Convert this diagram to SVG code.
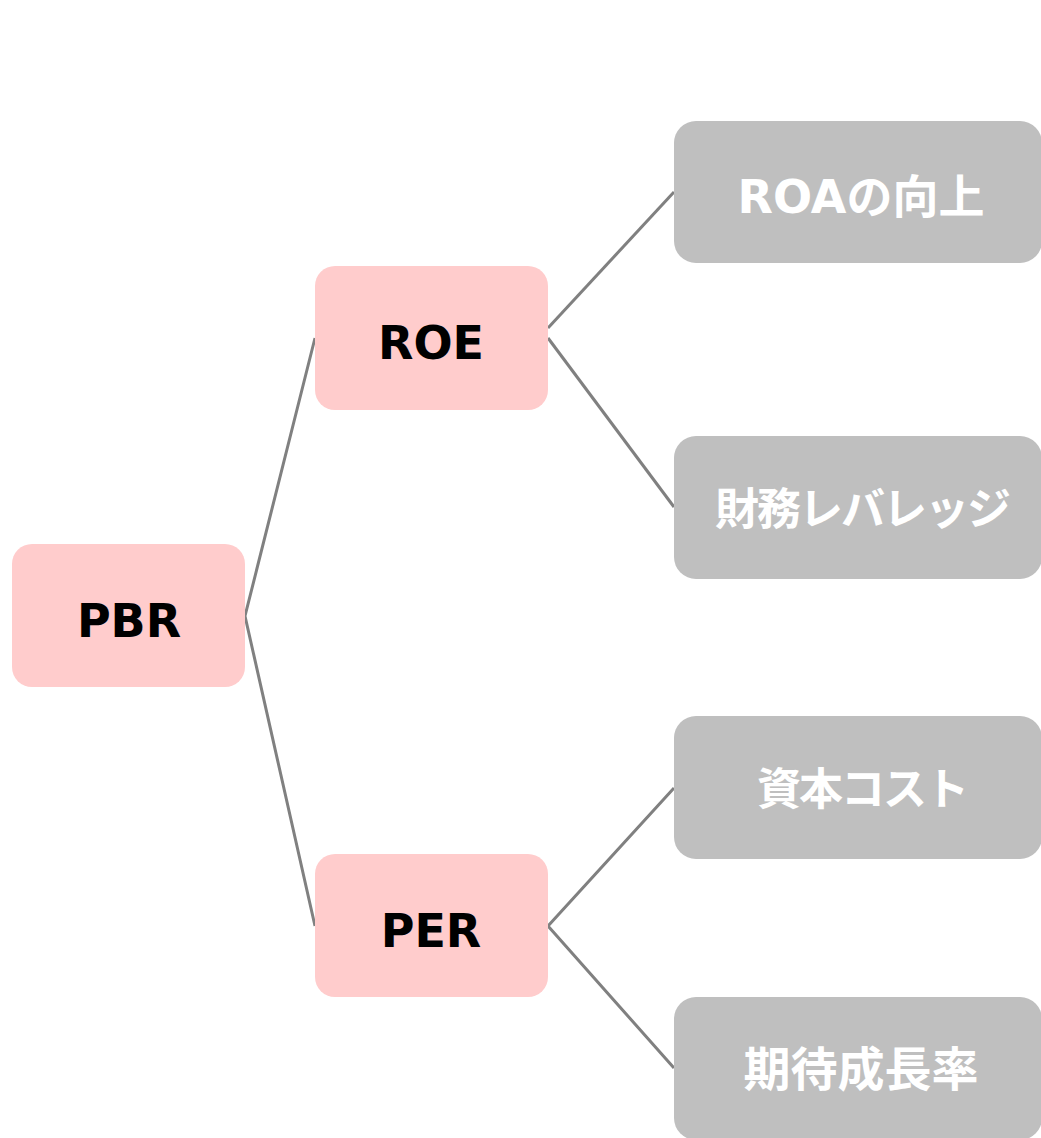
<svg xmlns="http://www.w3.org/2000/svg" width="1041" height="1138" viewBox="0 0 1041 1138">
<style>
.pink{fill:#ffcccc}
.gray{fill:#bfbfbf}
.lbl{font-family:"DejaVu Sans","Noto Sans CJK JP",sans-serif;font-weight:bold;font-size:44px;text-anchor:middle}
.big{font-size:46px}
.dark{fill:#000000}
.light{fill:#ffffff}
.conn{stroke:#808080;stroke-width:3;fill:none}
</style>
<rect width="1041" height="1138" fill="#ffffff"/>
<g id="connectors">
<polyline class="conn" points="315,338 245,616 315,926"/>
<polyline class="conn" points="674,192 548,328"/>
<polyline class="conn" points="548,338 674,507"/>
<polyline class="conn" points="674,788 548,926 674,1068"/>
</g>
<g id="node-pbr"><rect class="pink" x="12" y="544" width="233" height="143" rx="20"/><text class="lbl big dark" x="129" y="637">PBR</text></g>
<g id="node-roe"><rect class="pink" x="315" y="266" width="233" height="144" rx="20"/><text class="lbl big dark" x="431" y="359">ROE</text></g>
<g id="node-per"><rect class="pink" x="315" y="854" width="233" height="143" rx="20"/><text class="lbl big dark" x="431" y="947">PER</text></g>
<g id="node-roa"><rect class="gray" x="674" y="121" width="368" height="142" rx="22"/><text class="lbl light" x="861" y="213" style="font-size:46px">ROAの向上</text></g>
<g id="node-leverage"><rect class="gray" x="674" y="436" width="368" height="143" rx="22"/><text class="lbl light" x="862" y="525" letter-spacing="-2">財務レバレッジ</text></g>
<g id="node-cost"><rect class="gray" x="674" y="716" width="368" height="143" rx="22"/><text class="lbl light" x="862" y="805" letter-spacing="-2">資本コスト</text></g>
<g id="node-growth"><rect class="gray" x="674" y="997" width="368" height="143" rx="22"/><text class="lbl light" x="861" y="1086" style="font-size:47px">期待成長率</text></g>
</svg>
